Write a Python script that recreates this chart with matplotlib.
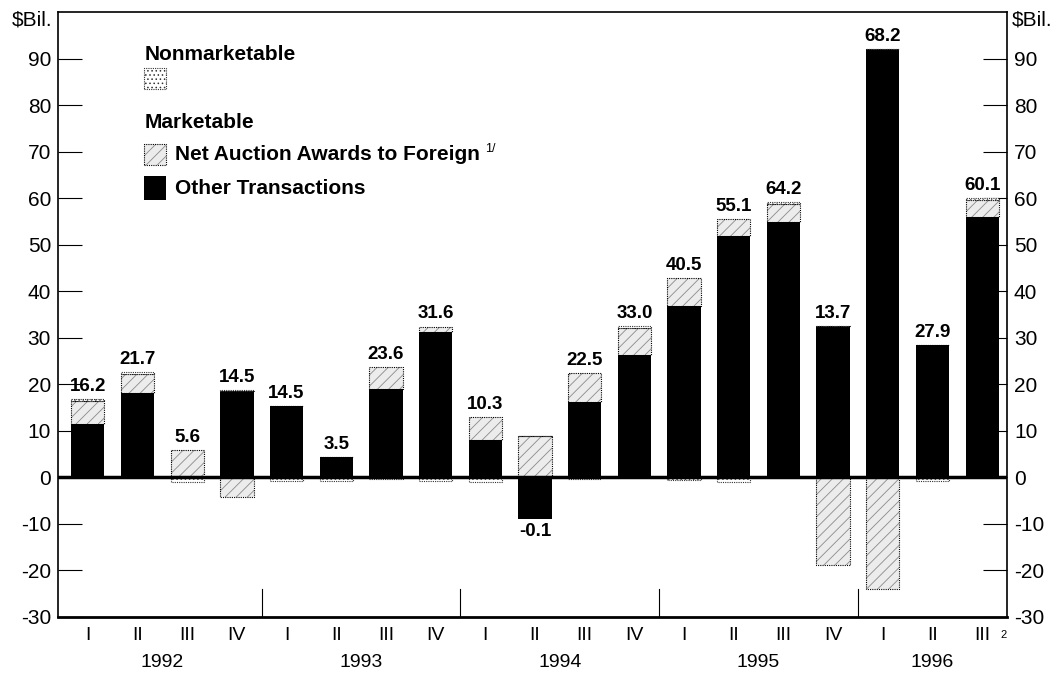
import numpy as np
import matplotlib
matplotlib.use('Agg')
import matplotlib.pyplot as plt
from matplotlib.patches import Rectangle
from matplotlib.transforms import blended_transform_factory

plt.rcParams['font.family'] = ['Liberation Sans', 'DejaVu Sans']
plt.rcParams['hatch.linewidth'] = 0.6

# Quarterly values, $ billions
quarters = ['I', 'II', 'III', 'IV'] * 4 + ['I', 'II', 'III']
years = ['1992', '1993', '1994', '1995', '1996']
other = [11.5, 18.2, 0.0, 18.5, 15.4, 4.3, 19.0, 31.3, 8.1, -9.0,
         16.3, 26.3, 36.9, 51.9, 54.8, 32.5, 92.0, 28.5, 56.0]
auction = [5.0, 4.1, 5.9, -4.3, 0.0, 0.0, 4.7, 1.1, 4.8, 8.8,
           6.1, 5.7, 6.0, 3.6, 3.9, -18.8, -24.0, 0.0, 3.7]
nonmkt = [0.3, 0.4, -0.9, 0.3, -0.8, -0.8, -0.3, -0.8, -0.9, 0.0,
          -0.3, 0.6, -0.5, -0.9, 0.5, 0.0, 0.0, -0.8, 0.4]
totals = [16.2, 21.7, 5.6, 14.5, 14.5, 3.5, 23.6, 31.6, 10.3, -0.1,
          22.5, 33.0, 40.5, 55.1, 64.2, 13.7, 68.2, 27.9, 60.1]

fig = plt.figure(figsize=(10.62, 6.77), dpi=100)
ax = fig.add_axes([58/1062, 1-617/677, 949/1062, 605/677])

x = np.arange(len(quarters))
w = 0.67

# stack positives upward and negatives downward
pos = np.zeros(len(x))
neg = np.zeros(len(x))

def stacked(vals):
    vals = np.array(vals)
    bottom = np.where(vals >= 0, pos, neg)
    pos[:] += np.where(vals >= 0, vals, 0)
    neg[:] += np.where(vals < 0, vals, 0)
    return vals, bottom

v, b = stacked(other)
ax.bar(x, v, w, bottom=b, color='black', lw=0, zorder=2)

v, b = stacked(auction)
ax.bar(x, v, w, bottom=b, color='#ececec', edgecolor='#8a8a8a', hatch='///', lw=0, zorder=2)
ax.bar(x, v, w, bottom=b, fill=False, edgecolor='black', ls=(0, (1, 1)), lw=0.8, zorder=2)

v, b = stacked(nonmkt)
ax.bar(x, v, w, bottom=b, color='white', edgecolor='#555555', hatch='....', lw=0, zorder=2)
ax.bar(x, v, w, bottom=b, fill=False, edgecolor='#333333', ls=(0, (1, 1)), lw=0.8, zorder=2)

# total labels
for i, t in enumerate(totals):
    if t >= 0:
        ax.annotate(f'{t:.1f}', (x[i], pos[i]), xytext=(0, 3), textcoords='offset points',
                    ha='center', va='bottom', fontsize=13.5, fontweight='bold')
    else:
        ax.annotate(f'{t:.1f}', (x[i], neg[i]), xytext=(0, -3), textcoords='offset points',
                    ha='center', va='top', fontsize=13.5, fontweight='bold')

ax.axhline(0, color='black', lw=2.5, zorder=3)

ax.set_xlim(-0.6, 18.5)
ax.set_ylim(-30, 100)
ax.set_yticks(np.arange(-30, 100, 10))
ax.set_yticklabels([str(t) for t in range(-30, 100, 10)])
ax.tick_params(axis='y', direction='in', length=17, width=0.8, labelsize=15, pad=5,
               right=True, labelright=True)
ax.set_xticks(x)
ax.set_xticklabels(quarters, fontsize=14)
ax.tick_params(axis='x', length=0, pad=7)
for s in ax.spines.values():
    s.set_linewidth(1.2)
ax.spines['bottom'].set_linewidth(2)

# year separators and year labels
trans = blended_transform_factory(ax.transData, ax.transAxes)
for sep in [3.5, 7.5, 11.5, 15.5]:
    ax.plot([sep, sep], [-30, -24], color='black', lw=0.8, zorder=1)
for k, yr in enumerate(years):
    grp = x[k*4:k*4+4]
    ax.text(grp.mean(), -0.075, yr, transform=trans, ha='center', va='center', fontsize=14)
ax.text(18.36, -0.03, '2', transform=trans, ha='left', va='center', fontsize=8)

fig.text(52/1062, 1-20/677, '$Bil.', ha='right', va='center', fontsize=15)
fig.text(1012/1062, 1-20/677, '$Bil.', ha='left', va='center', fontsize=15)

# legend
def fx(px):
    return (px - 58) / 949
def fy(py):
    return (617 - py) / 605

ax.text(fx(145), fy(55), 'Nonmarketable', transform=ax.transAxes, fontsize=15,
        fontweight='bold', va='center', ha='left')
ax.add_patch(Rectangle((fx(144), fy(89)), 22/949, 21/605, transform=ax.transAxes,
                       facecolor='white', edgecolor='#333333', hatch='....', lw=0.8, ls=(0, (1, 1))))
ax.text(fx(145), fy(122), 'Marketable', transform=ax.transAxes, fontsize=15,
        fontweight='bold', va='center', ha='left')
ax.add_patch(Rectangle((fx(144), fy(165)), 22/949, 21/605, transform=ax.transAxes,
                       facecolor='#ececec', edgecolor='#8a8a8a', hatch='///', lw=0))
ax.add_patch(Rectangle((fx(144), fy(165)), 22/949, 21/605, transform=ax.transAxes,
                       fill=False, edgecolor='black', lw=0.8, ls=(0, (1, 1))))
net = ax.text(fx(175), fy(155), 'Net Auction Awards to Foreign', transform=ax.transAxes,
              fontsize=15, fontweight='bold', va='center', ha='left')
ax.add_patch(Rectangle((fx(144), fy(200)), 22/949, 24/605, transform=ax.transAxes,
                       facecolor='black', lw=0))
ax.text(fx(175), fy(188), 'Other Transactions', transform=ax.transAxes, fontsize=15,
        fontweight='bold', va='center', ha='left')

fig.canvas.draw()
bb = net.get_window_extent()
sup_x = ax.transAxes.inverted().transform((bb.x1 + 5, 0))[0]
ax.text(sup_x, fy(149), '1/', transform=ax.transAxes, fontsize=9, va='center', ha='left')

fig.savefig('out.png', dpi=100)
